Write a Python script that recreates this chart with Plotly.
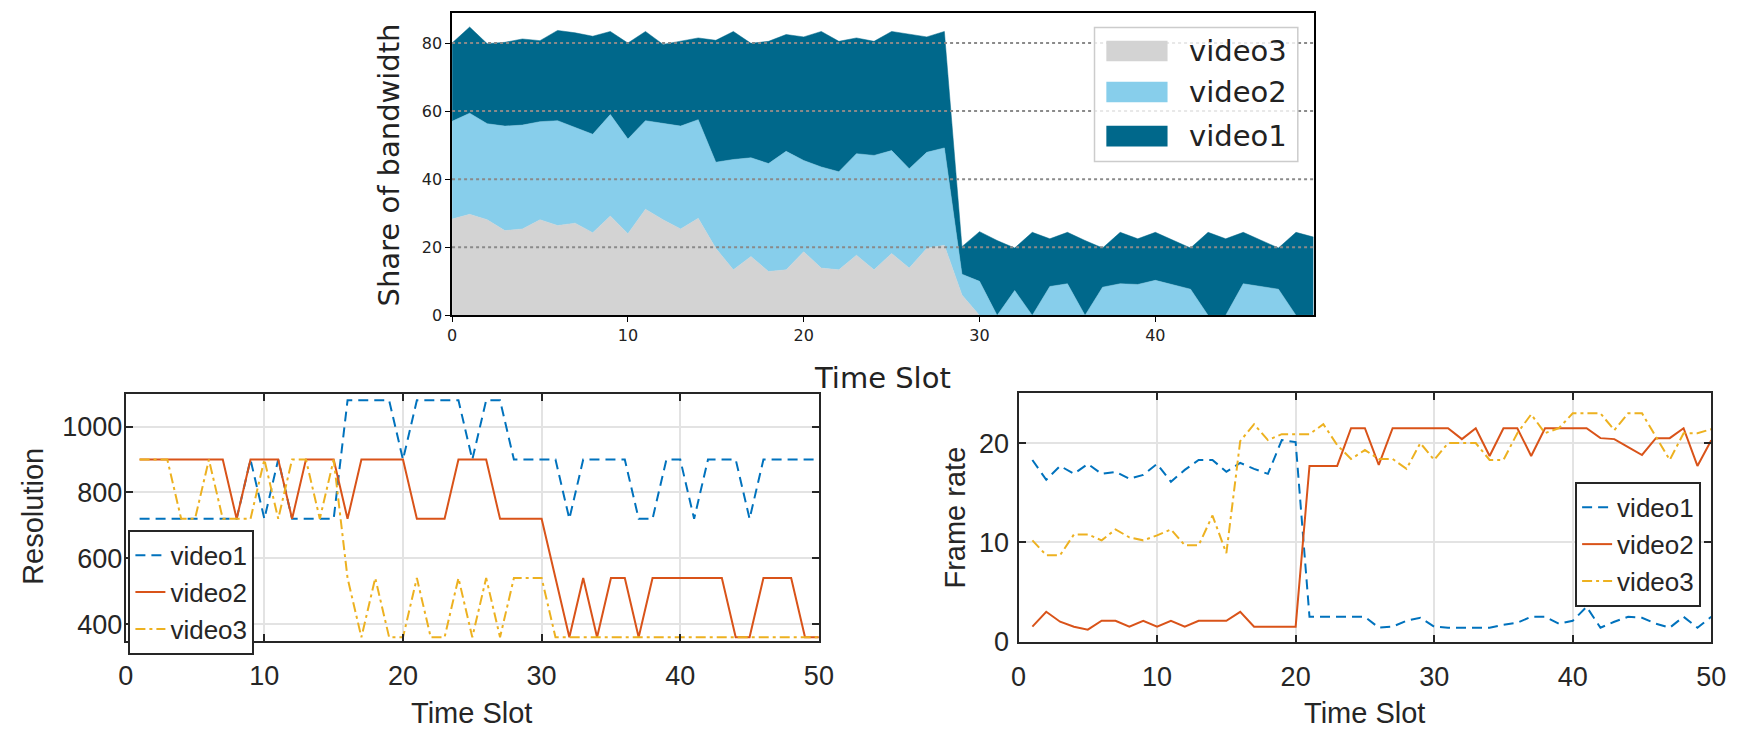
import plotly.graph_objects as go

W, H = 1748, 732


def px(x):
    return x / W


def py(y):
    return 1 - y / H


# ---------------- data: share of bandwidth (stacked areas) ----------------
share_slots = list(range(50))
share_video3 = [28.3, 29.7, 28.1, 24.9, 25.4, 28.1, 26.4, 27.1, 24.3, 29.2,
                24.0, 31.2, 28.1, 25.4, 28.5, 19.7, 13.4, 17.3, 12.9, 13.4,
                18.7, 13.9, 13.4, 17.7, 13.4, 18.2, 13.9, 19.7, 20.6, 6.0,
                0, 0, 0, 0, 0, 0, 0, 0, 0, 0,
                0, 0, 0, 0, 0, 0, 0, 0, 0, 0]
share_video2 = [28.7, 29.7, 28.2, 30.7, 30.5, 28.8, 30.8, 28.0, 28.9, 29.8,
                27.8, 26.0, 28.2, 30.2, 29.0, 25.3, 32.4, 29.0, 31.7, 34.8,
                26.8, 29.7, 28.8, 29.8, 33.6, 30.2, 29.2, 28.2, 28.6, 6.1,
                10.0, 0, 7.3, 0, 8.5, 9.3, 0, 8.3, 9.3, 9.1,
                10.3, 9.1, 7.7, 0, 0, 9.3, 8.6, 7.7, 0, 0]
share_video1 = [23.0, 25.3, 23.5, 24.6, 25.3, 23.8, 26.5, 27.9, 28.8, 24.4,
                28.2, 26.2, 23.3, 24.9, 24.0, 35.8, 37.6, 33.6, 35.9, 34.3,
                36.3, 39.8, 38.3, 34.0, 33.5, 35.0, 39.5, 33.9, 34.2, 8.1,
                14.6, 22.0, 12.5, 24.4, 14.0, 15.1, 22.0, 11.5, 15.1, 13.4,
                14.1, 12.9, 12.1, 24.4, 22.5, 15.1, 13.4, 12.1, 24.4, 23.0]
share_ticks_x = [0, 10, 20, 30, 40]
share_ticks_y = [0, 20, 40, 60, 80]

# ---------------- data: resolution ----------------
slots = list(range(1, 51))
res_video1 = [720, 720, 720, 720, 720, 720, 720, 720, 900, 720,
              900, 720, 720, 720, 720, 1080, 1080, 1080, 1080, 900,
              1080, 1080, 1080, 1080, 900, 1080, 1080, 900, 900, 900,
              900, 720, 900, 900, 900, 900, 720, 720, 900, 900,
              720, 900, 900, 900, 720, 900, 900, 900, 900, 900]
res_video2 = [900, 900, 900, 900, 900, 900, 900, 720, 900, 900,
              900, 720, 900, 900, 900, 720, 900, 900, 900, 900,
              720, 720, 720, 900, 900, 900, 720, 720, 720, 720,
              540, 360, 540, 360, 540, 540, 360, 540, 540, 540,
              540, 540, 540, 360, 360, 540, 540, 540, 360, 360]
res_video3 = [900, 900, 900, 720, 720, 900, 720, 720, 720, 900,
              720, 900, 900, 720, 900, 540, 360, 540, 360, 360,
              540, 360, 360, 540, 360, 540, 360, 540, 540, 540,
              360, 360, 360, 360, 360, 360, 360, 360, 360, 360,
              360, 360, 360, 360, 360, 360, 360, 360, 360, 360]
res_ticks_y = [400, 600, 800, 1000]

# ---------------- data: frame rate ----------------
fr_video1 = [18.3, 16.3, 17.7, 16.9, 17.9, 16.9, 17.1, 16.4, 16.8, 17.9,
             16.1, 17.3, 18.3, 18.3, 17.1, 18.0, 17.4, 16.9, 20.3, 20.1,
             2.5, 2.5, 2.5, 2.5, 2.5, 1.4, 1.5, 2.1, 2.4, 1.5,
             1.4, 1.4, 1.4, 1.4, 1.7, 1.9, 2.5, 2.5, 1.8, 2.1,
             3.5, 1.4, 2.0, 2.5, 2.4, 1.8, 1.4, 2.5, 1.4, 2.5]
fr_video2 = [1.5, 3.0, 2.0, 1.5, 1.2, 2.1, 2.1, 1.5, 2.1, 1.5,
             2.1, 1.5, 2.1, 2.1, 2.1, 3.0, 1.5, 1.5, 1.5, 1.5,
             17.7, 17.7, 17.7, 21.5, 21.5, 17.8, 21.5, 21.5, 21.5, 21.5,
             21.5, 20.4, 21.5, 18.7, 21.5, 21.5, 18.7, 21.5, 21.5, 21.5,
             21.5, 20.5, 20.4, 19.6, 18.8, 20.5, 20.5, 21.5, 17.7, 20.3]
fr_video3 = [10.2, 8.7, 8.7, 10.8, 10.8, 10.2, 11.3, 10.5, 10.2, 10.7,
             11.3, 9.7, 9.7, 12.7, 8.9, 20.2, 21.9, 20.3, 20.9, 20.9,
             20.9, 21.9, 19.8, 18.4, 19.3, 18.4, 18.4, 17.4, 20.0, 18.3,
             20.0, 20.0, 20.0, 18.3, 18.3, 21.0, 22.9, 21.0, 21.5, 23.0,
             23.0, 23.0, 21.3, 23.0, 23.0, 20.7, 18.3, 21.0, 21.0, 21.4]
fr_ticks_y = [0, 10, 20]
bottom_ticks_x = [0, 10, 20, 30, 40, 50]

names = ["video1", "video2", "video3"]
share_colors = {"video3": "#D3D3D3", "video2": "#87CEEB", "video1": "#00688B"}
ml_colors = {"video1": "#0072BD", "video2": "#D95319", "video3": "#EDB120"}
ml_dash = {"video1": "10px,6px", "video2": "solid", "video3": "10px,4px,3px,4px"}

fig = go.Figure()

# stacked areas (bottom to top: video3, video2, video1)
for nm, vals in [("video3", share_video3), ("video2", share_video2), ("video1", share_video1)]:
    fig.add_trace(go.Scatter(
        x=share_slots, y=vals, name=nm, mode="lines", stackgroup="share",
        line=dict(width=0.5, color=share_colors[nm]), fillcolor=share_colors[nm],
        showlegend=False, xaxis="x", yaxis="y", hoverinfo="skip"))

res_series = {"video1": res_video1, "video2": res_video2, "video3": res_video3}
fr_series = {"video1": fr_video1, "video2": fr_video2, "video3": fr_video3}
for nm in names:
    fig.add_trace(go.Scatter(
        x=slots, y=res_series[nm], name=nm, mode="lines",
        line=dict(color=ml_colors[nm], width=2, dash=ml_dash[nm]),
        xaxis="x2", yaxis="y2", legend="legend"))
for nm in names:
    fig.add_trace(go.Scatter(
        x=slots, y=fr_series[nm], name=nm, mode="lines",
        line=dict(color=ml_colors[nm], width=2, dash=ml_dash[nm]),
        xaxis="x3", yaxis="y3", legend="legend2"))

mpl_font = dict(family="DejaVu Sans", size=16, color="#222222")
ml_font = dict(family="Liberation Sans, Arial, sans-serif", size=27, color="#262626")
ml_leg_font = dict(family="Liberation Sans, Arial, sans-serif", size=26, color="#262626")

top_ax = dict(showline=True, linecolor="black", linewidth=1.6, mirror=True,
              ticks="outside", ticklen=5, tickwidth=1.3, tickcolor="black",
              showgrid=False, zeroline=False, tickfont=mpl_font)
ml_ax = dict(showline=True, linecolor="#262626", linewidth=2, mirror="ticks",
             ticks="inside", ticklen=7, tickwidth=1.5, tickcolor="#262626",
             showgrid=True, gridcolor="#E3E3E3", gridwidth=1.5, zeroline=False,
             tickfont=ml_font)

fig.update_layout(
    width=W, height=H, margin=dict(l=0, r=0, t=0, b=0),
    paper_bgcolor="white", plot_bgcolor="white",
    xaxis=dict(domain=[px(450), px(1323)], anchor="y", range=[0, 49],
               tickvals=share_ticks_x, **top_ax),
    yaxis=dict(domain=[py(322), py(13)], anchor="x", range=[0, 88.9],
               tickvals=share_ticks_y, **top_ax),
    xaxis2=dict(domain=[px(119.3), px(821.7)], anchor="y2", range=[0, 50],
                tickvals=bottom_ticks_x, ticklabelstandoff=10, **ml_ax),
    yaxis2=dict(domain=[py(654.3), py(402)], anchor="x2", range=[349, 1100],
                tickvals=res_ticks_y, ticklabelstandoff=-4, **ml_ax),
    xaxis3=dict(domain=[px(1024), px(1726)], anchor="y3", range=[0, 50],
                tickvals=bottom_ticks_x, ticklabelstandoff=10, **ml_ax),
    yaxis3=dict(domain=[py(655), py(401.7)], anchor="x3", range=[0, 25],
                tickvals=fr_ticks_y, ticklabelstandoff=2, **ml_ax),
    legend=dict(x=px(122), y=py(541), xanchor="left", yanchor="top",
                bgcolor="white", bordercolor="#262626", borderwidth=2,
                font=ml_leg_font, itemwidth=30, tracegroupgap=0, traceorder="normal"),
    legend2=dict(x=px(1588), y=py(492), xanchor="left", yanchor="top",
                 bgcolor="white", bordercolor="#262626", borderwidth=2,
                 font=ml_leg_font, itemwidth=30, tracegroupgap=0, traceorder="normal"),
)

# dotted horizontal grid lines on top of the areas (at the y tick values)
shapes = []
for v in share_ticks_y[1:]:
    shapes.append(dict(type="line", xref="x domain", yref="y", x0=0, x1=1, y0=v, y1=v,
                       line=dict(color="#8A8A8A", width=2, dash="dot"), layer="above"))

# matplotlib-style legend for the stacked chart
shapes.append(dict(type="rect", xref="paper", yref="paper",
                   x0=px(1101), x1=px(1307), y0=py(165), y1=py(28),
                   line=dict(color="#CCCCCC", width=1.5),
                   fillcolor="rgba(255,255,255,0.8)", layer="above"))
annotations = []
legend_rows = [("video3", 52), ("video2", 94), ("video1", 139)]
for nm, cy in legend_rows:
    shapes.append(dict(type="rect", xref="paper", yref="paper",
                       x0=px(1113), x1=px(1175), y0=py(cy + 10.5), y1=py(cy - 10.5),
                       line=dict(width=0), fillcolor=share_colors[nm], layer="above"))
    annotations.append(dict(text=nm, xref="paper", yref="paper", x=px(1195), y=py(cy),
                            xanchor="left", yanchor="middle", showarrow=False,
                            font=dict(family="DejaVu Sans", size=29, color="#222222")))

title_mpl = dict(family="DejaVu Sans", size=29, color="#222222")
title_ml = dict(family="Liberation Sans, Arial, sans-serif", size=29, color="#262626")
annotations += [
    dict(text="Time Slot", xref="paper", yref="paper", x=px(886), y=py(386),
         xanchor="center", yanchor="middle", showarrow=False, font=title_mpl),
    dict(text="Share of bandwidth", xref="paper", yref="paper", x=px(386), y=py(168),
         xanchor="center", yanchor="middle", showarrow=False, textangle=-90, font=title_mpl),
    dict(text="Resolution", xref="paper", yref="paper", x=px(26), y=py(527),
         xanchor="center", yanchor="middle", showarrow=False, textangle=-90, font=title_ml),
    dict(text="Time Slot", xref="paper", yref="paper", x=px(470), y=py(728),
         xanchor="center", yanchor="middle", showarrow=False, font=title_ml),
    dict(text="Frame rate", xref="paper", yref="paper", x=px(960), y=py(528),
         xanchor="center", yanchor="middle", showarrow=False, textangle=-90, font=title_ml),
    dict(text="Time Slot", xref="paper", yref="paper", x=px(1375), y=py(728),
         xanchor="center", yanchor="middle", showarrow=False, font=title_ml),
]
fig.update_layout(shapes=shapes, annotations=annotations)

fig.write_html("out.html")
